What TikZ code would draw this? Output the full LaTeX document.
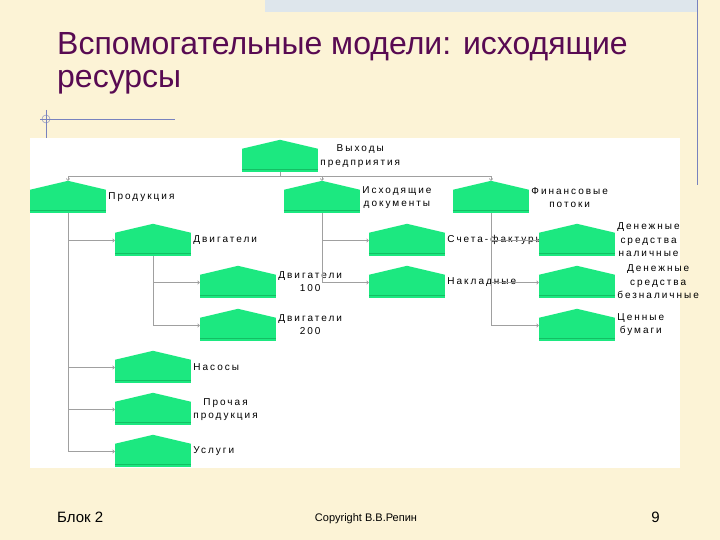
\documentclass[tikz,border=0pt]{standalone}
\usepackage{fontspec}
\setmainfont{Liberation Sans}
\newfontfamily\lblfont[LetterSpace=20]{Liberation Sans}
\usetikzlibrary{arrows.meta,positioning}
\definecolor{bgcream}{RGB}{252,243,214}
\definecolor{bandblue}{RGB}{222,230,236}
\definecolor{decoblue}{RGB}{120,130,190}
\definecolor{titlepurple}{RGB}{88,10,82}
\definecolor{housegreen}{RGB}{28,232,128}
\definecolor{stripegreen}{RGB}{20,190,100}
\definecolor{conngrey}{RGB}{160,160,160}
\pgfdeclarelayer{bg}
\pgfdeclarelayer{txt}
\pgfsetlayers{bg,txt,main}

\begin{document}
\begin{tikzpicture}[x=1pt,y=-1pt,node distance=2pt,
  house/.style={fill=housegreen,minimum width=76pt,minimum height=23pt,inner sep=0pt,
    path picture={\draw[stripegreen,line width=1pt] ([yshift=2.5pt]path picture bounding box.south west) -- ([yshift=2.5pt]path picture bounding box.south east);}},
  lbl/.style={font=\lblfont\fontsize{10}{13.5}\selectfont,align=center,inner sep=0pt},
  conn/.style={draw=conngrey,line width=0.6pt,-{To[length=2.5pt,width=4pt]}}]
\useasboundingbox (0,0) rectangle (720,540);
\begin{pgfonlayer}{bg}
\fill[bgcream] (0,0) rectangle (720,540);
\fill[bandblue] (265,0) rectangle (697,12);
\draw[decoblue] (697,0) -- (697,185);
\draw[decoblue] (40,119) -- (175,119);
\draw[decoblue] (46,110) -- (46,138);
\draw[decoblue] (46,119) circle (4);
\fill[white] (30,138) rectangle (680,468);
\end{pgfonlayer}

% title and footer
\node[anchor=north west,inner sep=0pt,align=left,text=titlepurple,font=\fontsize{32}{33}\selectfont] (ttl) at (57,32) {Вспомогательные модели: исходящие\\ресурсы};
\node[anchor=base west,inner sep=0pt,font=\fontsize{15}{18}\selectfont] (blk) at (57,522) {Блок 2};
\node[anchor=base,inner sep=0pt,font=\fontsize{11}{12}\selectfont] (copy) at (366,521) {Copyright В.В.Репин};
\node[anchor=base east,inner sep=0pt,font=\fontsize{15}{18}\selectfont] (pg) at (660,522) {9};

% houses
\node[house] (out) at (280,160.5) {};
\node[house] (prod) at (68,201.5) {};
\node[house] (docs) at (322,201.5) {};
\node[house] (fin) at (491,201.5) {};
\node[house] (eng) at (153,244.5) {};
\node[house] (inv) at (407,244.5) {};
\node[house] (cash) at (577,244.5) {};
\node[house] (eng1) at (238,286.5) {};
\node[house] (wb) at (407,286.5) {};
\node[house] (noncash) at (577,286.5) {};
\node[house] (eng2) at (238,329.5) {};
\node[house] (sec) at (577,329.5) {};
\node[house] (pump) at (153,371.5) {};
\node[house] (other) at (153,413.5) {};
\node[house] (serv) at (153,455.5) {};

\foreach \n in {out,prod,docs,fin,eng,inv,cash,eng1,wb,noncash,eng2,sec,pump,other,serv}
  \fill[housegreen] (\n.north west) -- ([yshift=9pt]\n.north) coordinate (\n-top) -- (\n.north east) -- cycle;

% labels
\begin{pgfonlayer}{txt}
\node[lbl,right=of out,yshift=4.5pt] (out-l) {Выходы\\предприятия};
\node[lbl,right=of prod,yshift=4.5pt] (prod-l) {Продукция};
\node[lbl,right=of docs,yshift=4pt] (docs-l) {Исходящие\\документы};
\node[lbl,right=of fin,yshift=4pt] (fin-l) {Финансовые\\потоки};
\node[lbl,right=of eng,yshift=4.5pt] (eng-l) {Двигатели};
\node[lbl,right=of inv,yshift=4.5pt] (inv-l) {Счета-фактуры};
\node[lbl,right=of cash,yshift=4.5pt] (cash-l) {Денежные\\средства\\наличные};
\node[lbl,right=of eng1,yshift=5pt] (eng1-l) {Двигатели\\100};
\node[lbl,right=of wb,yshift=4.5pt] (wb-l) {Накладные};
\node[lbl,right=of noncash,yshift=4.5pt] (noncash-l) {Денежные\\средства\\безналичные};
\node[lbl,right=of eng2,yshift=5pt] (eng2-l) {Двигатели\\200};
\node[lbl,right=of sec,yshift=5pt] (sec-l) {Ценные\\бумаги};
\node[lbl,right=of pump,yshift=4.5pt] (pump-l) {Насосы};
\node[lbl,right=of other,yshift=4pt] (other-l) {Прочая\\продукция};
\node[lbl,right=of serv,yshift=4pt] (serv-l) {Услуги};
\end{pgfonlayer}

% connectors
\foreach \c in {prod,docs,fin} \draw[conn] (out.south) -- ++(0,4) -| (\c-top);
\foreach \c in {eng,pump,other,serv} \draw[conn] (prod.south) |- ([yshift=4pt]\c.west);
\foreach \c in {eng1,eng2} \draw[conn] (eng.south) |- ([yshift=4pt]\c.west);
\foreach \c in {inv,wb} \draw[conn] (docs.south) |- ([yshift=4pt]\c.west);
\foreach \c in {cash,noncash,sec} \draw[conn] (fin.south) |- ([yshift=4pt]\c.west);
\end{tikzpicture}
\end{document}
